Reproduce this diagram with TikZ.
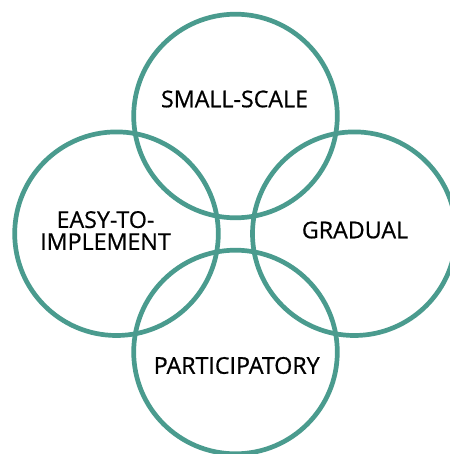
\documentclass[tikz,border=0pt]{standalone}
\usepackage{fontspec}
\setmainfont{Open Sans}
\newfontfamily\labfont{Open Sans}[FakeBold=0.7]
\definecolor{ringteal}{RGB}{74,155,142}
\begin{document}
\begin{tikzpicture}[x=1pt,y=-1pt,
  ring/.style={draw=ringteal,line width=4.7pt},
  label/.style={font=\labfont\fontsize{23.2}{22}\selectfont,text=black,inner sep=0pt,align=center}]
\useasboundingbox (0,0) rectangle (449,454);
% four overlapping rings
\draw[ring] (235.5,116) circle[radius=101.8];
\draw[ring] (116.5,233.7) circle[radius=101.8];
\draw[ring] (354.3,233.7) circle[radius=101.8];
\draw[ring] (235.5,352) circle[radius=101.8];
% ring labels
\node[label] (small) at (234.5,99) {SMALL-SCALE};
\node[label] (easy) at (105.5,230.5) {EASY-TO-\\IMPLEMENT};
\node[label] (gradual) at (355,230) {GRADUAL};
\node[label] (part) at (236.7,365.5) {PARTICIPATORY};
\end{tikzpicture}
\end{document}
